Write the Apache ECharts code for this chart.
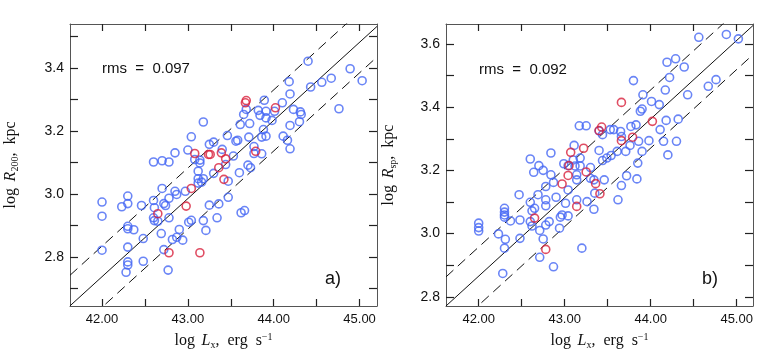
<!DOCTYPE html>
<html>
<head>
<meta charset="utf-8">
<script src="https://cdn.jsdelivr.net/npm/echarts@6/dist/echarts.min.js"></script>
<style>
  html, body { margin: 0; padding: 0; background: #fff; }
  #chart-container { width: 763px; height: 356px; }
</style>
</head>
<body>
<div id="chart-container"></div>
<script>
// panel a) log R200 vs log Lx
const panelABlue = [
  [42.00, 2.974], [42.00, 2.929], [42.00, 2.821], [42.23, 2.959], [42.30, 2.993], [42.30, 2.969],
  [42.30, 2.897], [42.30, 2.889], [42.30, 2.831], [42.30, 2.784], [42.30, 2.774], [42.28, 2.751],
  [42.37, 2.886], [42.46, 2.963], [42.48, 2.858], [42.48, 2.786], [42.60, 2.979], [42.60, 3.101],
  [42.61, 2.956], [42.60, 2.924], [42.61, 2.915], [42.65, 2.913], [42.70, 3.105], [42.70, 3.017],
  [42.72, 2.969], [42.69, 2.874], [42.72, 2.823], [42.74, 2.963], [42.78, 3.101], [42.78, 2.986],
  [42.78, 2.924], [42.77, 2.758], [42.85, 3.130], [42.85, 3.008], [42.87, 2.998], [42.82, 2.855],
  [42.87, 2.862], [42.90, 2.887], [42.94, 2.853], [42.97, 3.008], [43.00, 3.139], [43.01, 2.910],
  [43.04, 3.181], [43.04, 2.916], [43.08, 3.109], [43.12, 3.072], [43.12, 3.048], [43.12, 3.034],
  [43.14, 3.107], [43.14, 3.098], [43.18, 3.228], [43.18, 3.048], [43.16, 3.037], [43.18, 2.915],
  [43.21, 2.884], [43.25, 3.157], [43.25, 2.964], [43.30, 3.164], [43.30, 3.065], [43.34, 2.924],
  [43.36, 2.968], [43.40, 3.141], [43.44, 3.093], [43.46, 3.185], [43.47, 3.040], [43.47, 2.989],
  [43.53, 3.120], [43.56, 3.167], [43.58, 3.170], [43.60, 3.067], [43.61, 3.220], [43.62, 2.940],
  [43.66, 2.947], [43.65, 3.252], [43.68, 3.268], [43.70, 3.091], [43.71, 3.180], [43.72, 3.223],
  [43.73, 3.083], [43.77, 3.128], [43.82, 3.265], [43.84, 3.249], [43.86, 3.127], [43.86, 3.180],
  [43.88, 3.204], [43.89, 3.297], [43.91, 3.262], [43.91, 3.241], [43.91, 3.183], [43.98, 3.233],
  [44.01, 3.262], [44.10, 3.289], [44.11, 3.183], [44.16, 3.170], [44.18, 3.356], [44.19, 3.217],
  [44.19, 3.317], [44.19, 3.143], [44.23, 3.268], [44.31, 3.260], [44.32, 3.252], [44.30, 3.229],
  [44.40, 3.421], [44.43, 3.339], [44.56, 3.354], [44.67, 3.367], [44.76, 3.270], [44.89, 3.397],
  [45.03, 3.359], [43.77, 3.150]
];
const panelARed = [
  [42.65, 2.937], [42.78, 2.813], [42.98, 2.961], [43.04, 3.017], [43.08, 3.128], [43.14, 2.813],
  [43.24, 3.125], [43.26, 3.125], [43.36, 3.083], [43.39, 3.130], [43.42, 3.046], [43.44, 3.111],
  [43.67, 3.289], [43.68, 3.296], [43.79, 3.135], [44.02, 3.273]
];

// panel b) log Rsp vs log Lx
const panelBBlue = [
  [42.00, 3.033], [42.00, 3.019], [42.00, 3.008], [42.23, 2.999], [42.30, 3.080], [42.30, 3.068],
  [42.30, 3.059], [42.30, 3.052], [42.31, 2.982], [42.30, 2.954], [42.28, 2.874], [42.37, 3.040],
  [42.47, 3.123], [42.48, 3.043], [42.48, 2.985], [42.60, 3.236], [42.60, 3.099], [42.60, 3.038],
  [42.62, 3.024], [42.62, 3.072], [42.64, 3.194], [42.65, 3.080], [42.69, 3.123], [42.70, 3.215],
  [42.71, 3.010], [42.71, 2.925], [42.75, 3.200], [42.75, 2.983], [42.78, 3.149], [42.78, 3.107],
  [42.78, 3.088], [42.78, 3.027], [42.82, 3.038], [42.84, 3.255], [42.84, 3.186], [42.87, 3.162],
  [42.87, 2.895], [42.90, 3.115], [42.94, 3.017], [42.95, 3.052], [42.97, 3.059], [42.99, 3.221],
  [43.01, 3.096], [43.04, 3.138], [43.04, 3.056], [43.04, 3.215], [43.10, 3.233], [43.11, 3.279],
  [43.12, 3.214], [43.14, 3.186], [43.14, 3.170], [43.14, 3.107], [43.17, 3.341], [43.18, 3.239],
  [43.18, 3.214], [43.20, 2.954], [43.25, 3.341], [43.26, 3.101], [43.30, 3.209], [43.30, 3.175],
  [43.34, 3.170], [43.34, 3.077], [43.35, 3.128], [43.40, 3.263], [43.40, 3.325], [43.44, 3.313],
  [43.44, 3.231], [43.46, 3.170], [43.49, 3.239], [43.53, 3.329], [43.54, 3.247], [43.57, 3.329],
  [43.61, 3.260], [43.62, 3.107], [43.65, 3.323], [43.66, 3.152], [43.66, 3.307], [43.71, 3.260],
  [43.72, 3.183], [43.77, 3.339], [43.76, 3.279], [43.80, 3.484], [43.83, 3.344], [43.86, 3.292],
  [43.85, 3.223], [43.84, 3.173], [43.88, 3.387], [43.90, 3.394], [43.90, 3.260], [43.91, 3.439],
  [43.98, 3.294], [44.01, 3.418], [44.10, 3.408], [44.11, 3.329], [44.15, 3.292], [44.17, 3.454],
  [44.18, 3.358], [44.19, 3.542], [44.20, 3.249], [44.22, 3.494], [44.29, 3.553], [44.30, 3.292],
  [44.32, 3.362], [44.39, 3.527], [44.43, 3.439], [44.56, 3.621], [44.67, 3.466], [44.76, 3.487],
  [44.88, 3.630], [45.02, 3.616]
];
const panelBRed = [
  [42.65, 3.049], [42.78, 2.950], [42.97, 3.157], [43.04, 3.184], [43.05, 3.215], [43.07, 3.257],
  [43.14, 3.086], [43.22, 3.270], [43.25, 3.195], [43.36, 3.158], [43.40, 3.326], [43.43, 3.337],
  [43.41, 3.126], [43.66, 3.415], [43.66, 3.294], [43.79, 3.305], [44.02, 3.355]
];

// fit: [value at logLx = 43, slope, rms]
const fitA = [2.985, 0.248, 0.097];
const fitB = [3.114, 0.2485, 0.092];

const xRangeA = [41.627, 45.203];
const yRangeA = [2.644, 3.539];
const xRangeB = [41.62, 45.19];
const yRangeB = [2.771, 3.663];

const xTickValues = [42, 42.5, 43, 43.5, 44, 44.5, 45];
const xLabelValues = [42, 43, 44, 45];
const yTickValuesA = [2.7, 2.8, 2.9, 3.0, 3.1, 3.2, 3.3, 3.4, 3.5];
const yLabelValuesA = [2.8, 3.0, 3.2, 3.4];
const yTickValuesB = [2.8, 2.9, 3.0, 3.1, 3.2, 3.3, 3.4, 3.5, 3.6];
const yLabelValuesB = [2.8, 3.0, 3.2, 3.4, 3.6];

const BLUE = '#4566f4';
const RED = '#d8203c';
const SANS = 'Liberation Sans, Arial, sans-serif';
const SERIF = 'Liberation Serif, Times New Roman, serif';

const chartDom = document.getElementById('chart-container');
const myChart = echarts.init(chartDom, null, {renderer: 'canvas'});

const nameRich = {
  n: {fontFamily: SERIF, fontSize: 16, color: '#111', lineHeight: 18},
  i: {fontFamily: SERIF, fontSize: 16, fontStyle: 'italic', color: '#111', lineHeight: 18},
  s: {fontFamily: SERIF, fontSize: 10, color: '#111', lineHeight: 18, verticalAlign: 'bottom', padding: [8, 0, 0, 0]},
  p: {fontFamily: SERIF, fontSize: 10, color: '#111', lineHeight: 18, verticalAlign: 'top', padding: [0, 0, 6, 0]}
};

function xAxes(gi, range) {
  const base = {
    type: 'value', gridIndex: gi, min: range[0], max: range[1],
    axisLine: {show: true, onZero: false, lineStyle: {color: '#555', width: 1}},
    axisTick: {show: true, inside: true, length: 7, customValues: xTickValues, lineStyle: {color: '#222', width: 1.2}},
    splitLine: {show: false}
  };
  return [
    Object.assign({}, base, {
      position: 'bottom',
      axisLabel: {customValues: xLabelValues, formatter: v => v.toFixed(2), margin: 7,
        fontFamily: SANS, fontSize: 13, color: '#111'},
      name: '{n|log}  {i|L}{s|x}{n|,  erg  s}{p|\u22121}',
      nameLocation: 'middle', nameGap: 26,
      nameTextStyle: {rich: nameRich}
    }),
    Object.assign({}, base, {position: 'top', axisLabel: {show: false}})
  ];
}

function yAxes(gi, range, ticks, labels, name, gap) {
  const base = {
    type: 'value', gridIndex: gi, min: range[0], max: range[1],
    axisLine: {show: true, onZero: false, lineStyle: {color: '#555', width: 1}},
    axisTick: {show: true, inside: true, length: 8, customValues: ticks, lineStyle: {color: '#222', width: 1.2}},
    splitLine: {show: false}
  };
  return [
    Object.assign({}, base, {
      position: 'left',
      axisLabel: {customValues: labels, formatter: v => v.toFixed(1), margin: 6,
        fontFamily: SANS, fontSize: 14, color: '#111'},
      name: name, nameLocation: 'middle', nameGap: gap,
      nameTextStyle: {rich: nameRich}
    }),
    Object.assign({}, base, {position: 'right', axisLabel: {show: false}})
  ];
}

function fitLines(gi, fit, range) {
  const f = (x, off) => [x, fit[0] + fit[1] * (x - 43) + off];
  const mk = (off, dashed) => ({
    type: 'line', xAxisIndex: gi * 2, yAxisIndex: gi * 2, silent: true,
    symbol: 'none', clip: true, z: 1,
    lineStyle: {color: '#111', width: 1, type: dashed ? [10, 6] : 'solid'},
    data: [f(range[0], off), f(range[1], off)]
  });
  return [mk(0, false), mk(fit[2], true), mk(-fit[2], true)];
}

function scatter(gi, data, color) {
  return {
    type: 'scatter', xAxisIndex: gi * 2, yAxisIndex: gi * 2,
    symbol: 'circle', symbolSize: 8, z: 3,
    itemStyle: {color: 'rgba(255,255,255,0)', borderColor: color, borderWidth: 1.6},
    data: data
  };
}

const option = {
  animation: false,
  backgroundColor: '#fff',
  grid: [
    {left: 70, top: 24, width: 307, height: 282},
    {left: 446, top: 24, width: 307, height: 282}
  ],
  xAxis: [].concat(xAxes(0, xRangeA), xAxes(1, xRangeB)),
  yAxis: [].concat(
    yAxes(0, yRangeA, yTickValuesA, yLabelValuesA, '{n|log}  {i|R}{s|200}{n|,  kpc}', 50),
    yAxes(1, yRangeB, yTickValuesB, yLabelValuesB, '{n|log}  {i|R}{s|sp}{n|,  kpc}', 48)
  ),
  graphic: [
    {type: 'text', left: 102, top: 61, style: {text: 'rms  =  ' + fitA[2].toFixed(3), font: '15px ' + SANS, fill: '#111'}},
    {type: 'text', left: 479, top: 62, style: {text: 'rms  =  ' + fitB[2].toFixed(3), font: '15px ' + SANS, fill: '#111'}},
    {type: 'text', left: 325, top: 270, style: {text: 'a)', font: '18px ' + SANS, fill: '#111'}},
    {type: 'text', left: 702, top: 270, style: {text: 'b)', font: '18px ' + SANS, fill: '#111'}}
  ],
  series: [].concat(
    fitLines(0, fitA, xRangeA),
    fitLines(1, fitB, xRangeB),
    [scatter(0, panelABlue, BLUE), scatter(0, panelARed, RED),
     scatter(1, panelBBlue, BLUE), scatter(1, panelBRed, RED)]
  )
};

option && myChart.setOption(option);
</script>
</body>
</html>
